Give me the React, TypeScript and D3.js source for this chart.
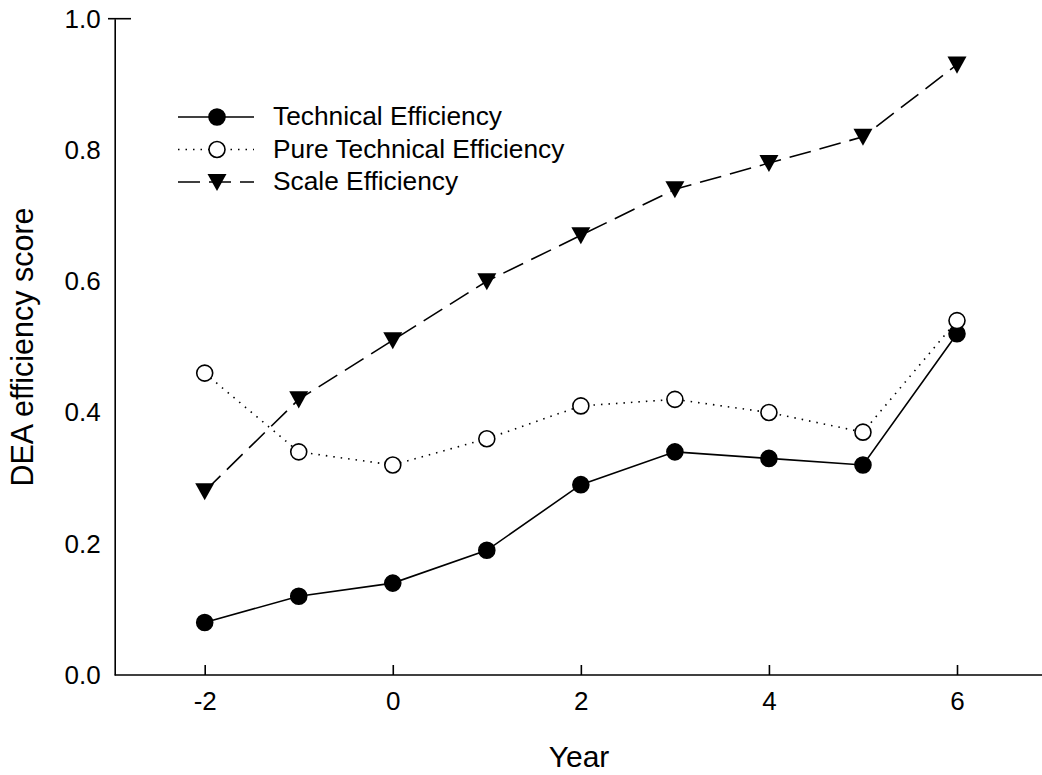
import React, { useRef, useEffect } from "react";
import * as d3 from "d3";

// data
const years = [-2, -1, 0, 1, 2, 3, 4, 5, 6];
const technical = [0.08, 0.12, 0.14, 0.19, 0.29, 0.34, 0.33, 0.32, 0.52];
const pureTechnical = [0.46, 0.34, 0.32, 0.36, 0.41, 0.42, 0.40, 0.37, 0.54];
const scaleEff = [0.28, 0.42, 0.51, 0.60, 0.67, 0.74, 0.78, 0.82, 0.93];
const xTicks = [-2, 0, 2, 4, 6];
const yTicks = [0, 0.2, 0.4, 0.6, 0.8, 1.0];

const series = [
  { name: "Technical Efficiency", values: technical, dash: null, marker: "filled" },
  { name: "Pure Technical Efficiency", values: pureTechnical, dash: "1.5,6", marker: "open" },
  { name: "Scale Efficiency", values: scaleEff, dash: "22,9", marker: "triangle" },
];

const FONT = "'Liberation Sans', Arial, sans-serif";

const App = () => {
  const ref = useRef(null);
  const width = 1042;
  const height = 775;

  useEffect(() => {
    const svg = d3.select(ref.current);
    svg.selectAll("*").remove();

    const axisX = 114.7;
    const x = d3.scaleLinear().domain([-2, 6]).range([204.7, 957]);
    const y = d3.scaleLinear().domain([0, 1]).range([675, 18.7]);

    const drawMarker = (g, kind, cx, cy) => {
      if (kind === "triangle") {
        const s = 9.5;
        g.append("path")
          .attr("d", `M${cx - s},${cy - s * 0.85}L${cx + s},${cy - s * 0.85}L${cx},${cy + s * 0.95}Z`)
          .attr("fill", "#000");
      } else {
        g.append("circle")
          .attr("cx", cx)
          .attr("cy", cy)
          .attr("r", 8)
          .attr("fill", kind === "filled" ? "#000" : "#fff")
          .attr("stroke", "#000")
          .attr("stroke-width", 1.6);
      }
    };

    // lines
    series.forEach(s => {
      const line = d3
        .line()
        .x((d, i) => x(years[i]))
        .y(d => y(d));
      svg
        .append("path")
        .datum(s.values)
        .attr("d", line)
        .attr("fill", "none")
        .attr("stroke", "#000")
        .attr("stroke-width", 1.6)
        .attr("stroke-dasharray", s.dash);
    });

    // markers
    series.forEach(s => {
      const g = svg.append("g");
      s.values.forEach((v, i) => drawMarker(g, s.marker, x(years[i]), y(v)));
    });

    // x axis line, then ticks
    svg
      .append("line")
      .attr("x1", axisX)
      .attr("x2", width)
      .attr("y1", 675)
      .attr("y2", 675)
      .attr("stroke", "#000")
      .attr("stroke-width", 1.6);

    const xAxis = svg.append("g").attr("transform", "translate(0,675)");
    xAxis
      .call(d3.axisBottom(x).tickValues(xTicks).tickSizeInner(-10).tickSizeOuter(0).tickFormat(d3.format("d")).tickPadding(17))
      .call(g => g.select(".domain").remove())
      .call(g => g.selectAll("line").attr("stroke-width", 1.6))
      .selectAll("text")
      .style("font-family", FONT)
      .style("font-size", "26px")
      .attr("fill", "#000");
    xAxis.selectAll("text").text(d => (d < 0 ? "-" + Math.abs(d) : d));

    svg
      .append("g")
      .attr("transform", `translate(${axisX},0)`)
      .call(d3.axisLeft(y).tickValues(yTicks).tickSize(0).tickFormat(d3.format(".1f")).tickPadding(14))
      .call(g => g.select(".domain").attr("stroke-width", 1.6))
      .selectAll("text")
      .style("font-family", FONT)
      .style("font-size", "26px")
      .attr("fill", "#000");

    // small stub at the top of the y axis
    svg
      .append("line")
      .attr("x1", 108)
      .attr("x2", 131)
      .attr("y1", y(1))
      .attr("y2", y(1))
      .attr("stroke", "#000")
      .attr("stroke-width", 1.6);

    // axis titles
    svg
      .append("text")
      .attr("x", 579)
      .attr("y", 767)
      .attr("text-anchor", "middle")
      .style("font-family", FONT)
      .style("font-size", "30px")
      .text("Year");

    svg
      .append("text")
      .attr("transform", "translate(33,347) rotate(-90)")
      .attr("text-anchor", "middle")
      .style("font-family", FONT)
      .style("font-size", "30.5px")
      .text("DEA efficiency score");

    // legend
    const legend = svg.append("g");
    series.forEach((s, i) => {
      const ly = 117 + i * 32.5;
      legend
        .append("line")
        .attr("x1", 178)
        .attr("x2", 254)
        .attr("y1", ly)
        .attr("y2", ly)
        .attr("stroke", "#000")
        .attr("stroke-width", 1.6)
        .attr("stroke-dasharray", s.dash);
      drawMarker(legend, s.marker, 217, ly);
      legend
        .append("text")
        .attr("x", 273)
        .attr("y", ly + 8)
        .style("font-family", FONT)
        .style("font-size", "26.3px")
        .text(s.name);
    });
  }, []);

  return (
    <svg
      ref={ref}
      width={width}
      height={height}
      style={{ position: "absolute", left: 0, top: 0, background: "#fff" }}
    />
  );
};

export default App;
